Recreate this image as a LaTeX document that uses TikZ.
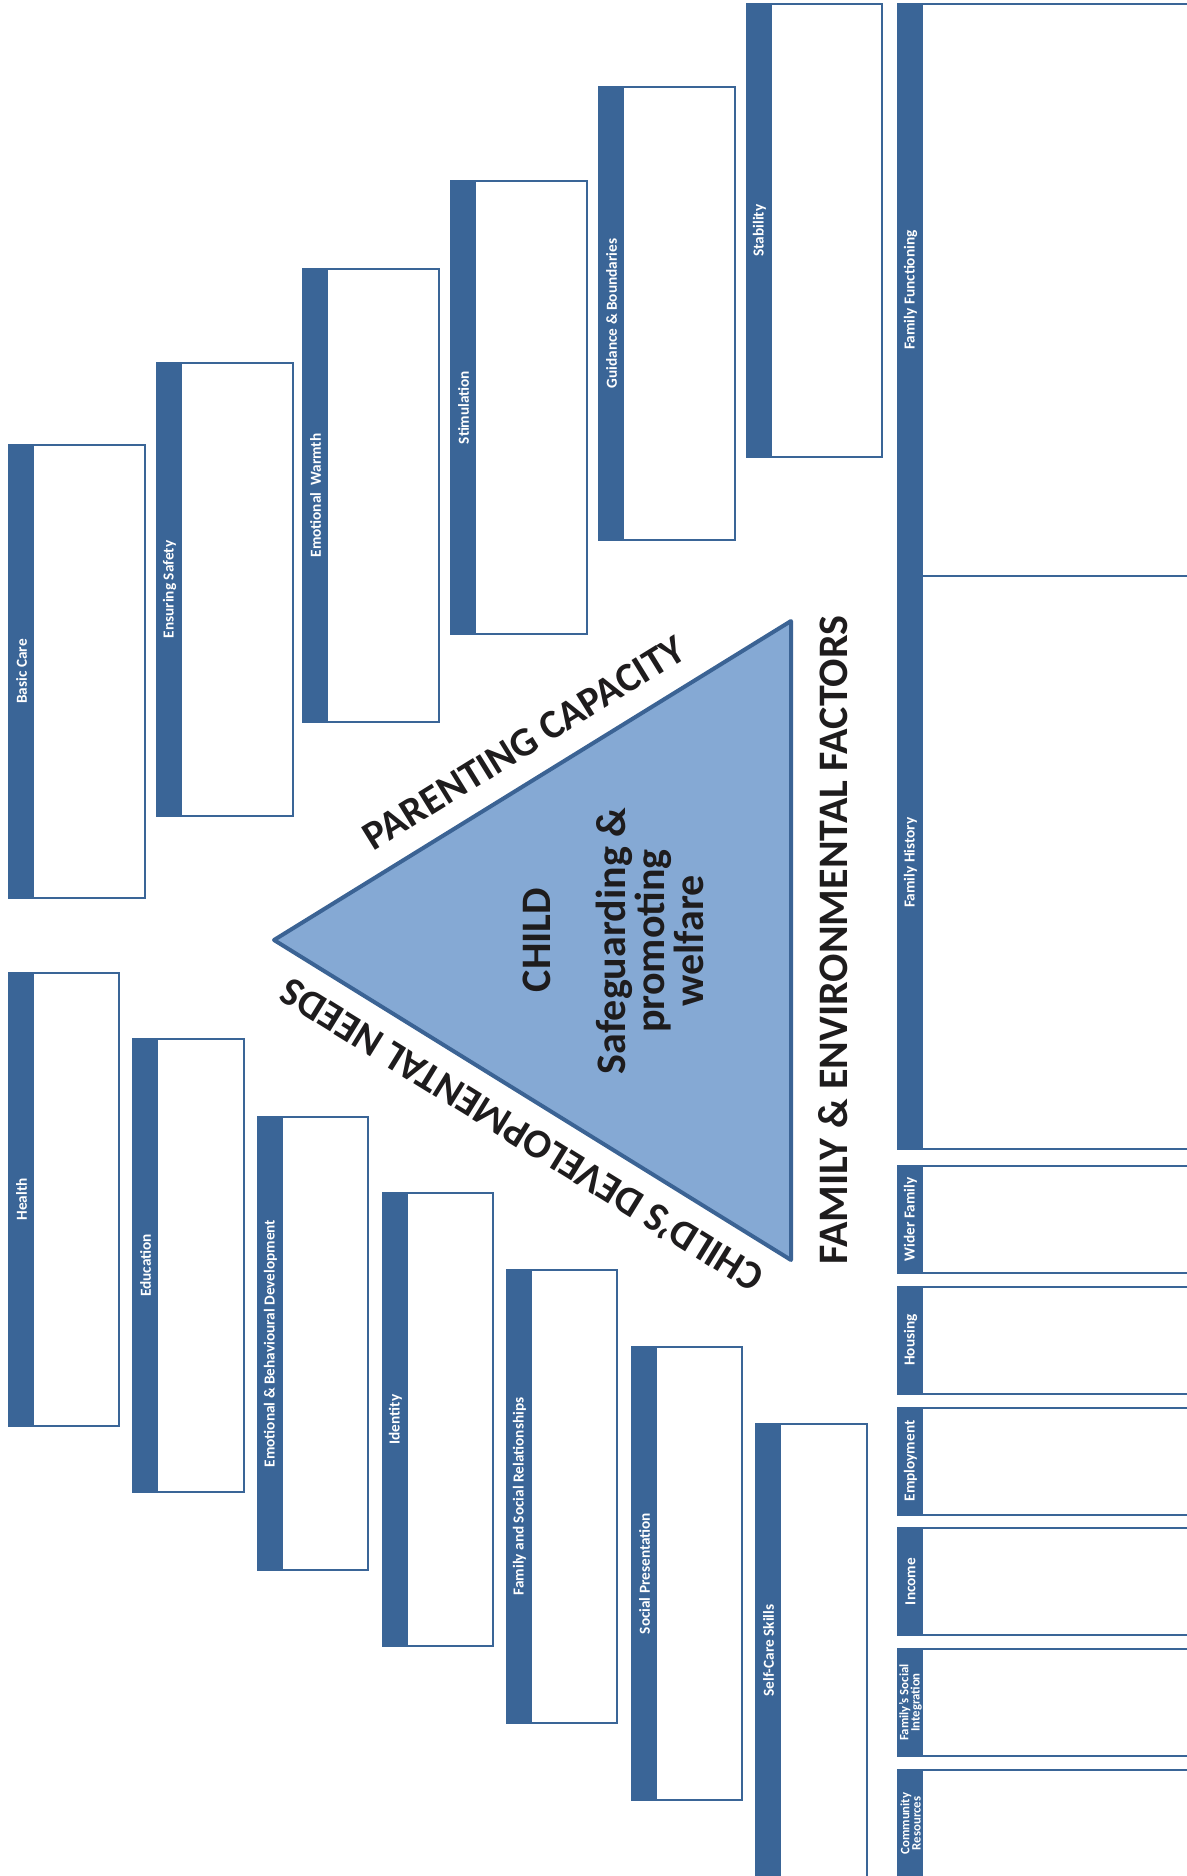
\documentclass[tikz,border=0pt]{standalone}
\usepackage{fontspec}
\setmainfont{Carlito}
\definecolor{barblue}{RGB}{58,101,151}
\definecolor{trifill}{RGB}{133,169,212}
\definecolor{triedge}{RGB}{59,99,148}
\definecolor{ink}{RGB}{30,28,29}
\tikzset{
  boxline/.style={draw=barblue, line width=1pt},
  plabel/.style={rotate=90, text=white, inner sep=0pt,
    font=\bfseries\fontsize{7.65}{7}\selectfont, align=center},
  smalllabel/.style={plabel, font=\bfseries\fontsize{6.4}{5.6}\selectfont},
  bigtxt/.style={text=ink, inner sep=0pt, font=\bfseries\fontsize{21}{19.5}\selectfont},
  sidetxt/.style={bigtxt, font=\bfseries\fontsize{20.4}{19.5}\selectfont},
  trianglestyle/.style={fill=trifill, draw=triedge, line width=2pt, line join=round}
}
% name, x, y, width, height, label, label style
\newcommand\pillarbox[7]{%
  \fill[white] (#2,#3) rectangle ++(#4,#5);
  \fill[barblue] (#2,#3) rectangle ++(25,#5);
  \draw[boxline] (#2,#3) rectangle ++(#4,#5);
  \node[#7] (#1) at ({#2+12.5},{#3+#5/2}) {#6};
}
\begin{document}
\begin{tikzpicture}[x=0.5pt,y=-0.5pt]
\useasboundingbox (0,0) rectangle (1187,1876);
\clip (0,0) rectangle (1187,1876);
% Parenting capacity pillars
\pillarbox{basic}{9}{445}{136}{453}{Basic Care}{plabel}
\pillarbox{safety}{157}{363}{136}{453}{Ensuring Safety}{plabel}
\pillarbox{warmth}{303}{269}{136}{453}{Emotional~ Warmth}{plabel}
\pillarbox{stim}{451}{181}{136}{453}{Stimulation}{plabel}
\pillarbox{guid}{599}{87}{136}{453}{Guidance \& Boundaries}{plabel}
\pillarbox{stab}{747}{4}{135}{453}{Stability}{plabel}
% Developmental needs pillars
\pillarbox{health}{9}{973}{110}{453}{Health}{plabel}
\pillarbox{educ}{133}{1039}{111}{453}{Education}{plabel}
\pillarbox{ebd}{258}{1117}{110}{453}{Emotional \& Behavioural Development}{plabel}
\pillarbox{ident}{383}{1193}{110}{453}{Identity}{plabel}
\pillarbox{fsr}{507}{1270}{110}{453}{Family and Social Relationships}{plabel}
\pillarbox{socp}{632}{1347}{110}{453}{Social Presentation}{plabel}
\pillarbox{selfc}{756}{1424}{111}{453}{Self-Care Skills}{plabel}
% Family and environmental factors column
\pillarbox{ffunc}{898}{4}{320}{572}{Family Functioning}{plabel}
\pillarbox{fhist}{898}{576}{320}{573}{Family History}{plabel}
\pillarbox{wider}{898}{1166}{320}{107}{Wider Family}{plabel}
\pillarbox{housing}{898}{1286.5}{320}{107}{Housing}{plabel}
\pillarbox{employ}{898}{1407.5}{320}{107}{Employment}{plabel}
\pillarbox{income}{898}{1528}{320}{107}{Income}{plabel}
\pillarbox{fsi}{898}{1649}{320}{107}{Family’s Social\\Integration}{smalllabel}
\pillarbox{comm}{898}{1770}{320}{107}{Community\\Resources}{smalllabel}
% Triangle
\coordinate (apex) at (274,940);
\coordinate (tr) at (791,621);
\coordinate (br) at (791,1260);
\draw[trianglestyle] (apex) -- (tr) -- (br) -- cycle;
\node[bigtxt, rotate=90, anchor=base] (child) at (550,940) {CHILD};
\node[bigtxt, rotate=90, align=center, anchor=center] (sg) at (650,941)
  {Safeguarding \&\\promoting\\welfare};
% Side labels
\node[sidetxt, rotate=31.7] (pc) at (524,743) {PARENTING CAPACITY};
\node[sidetxt, rotate=148.3] (cdn) at (521,1136) {CHILD’S DEVELOPMENTAL NEEDS};
\node[bigtxt, rotate=90, anchor=base] (fef) at (847,940) {FAMILY \& ENVIRONMENTAL FACTORS};
\end{tikzpicture}
\end{document}
